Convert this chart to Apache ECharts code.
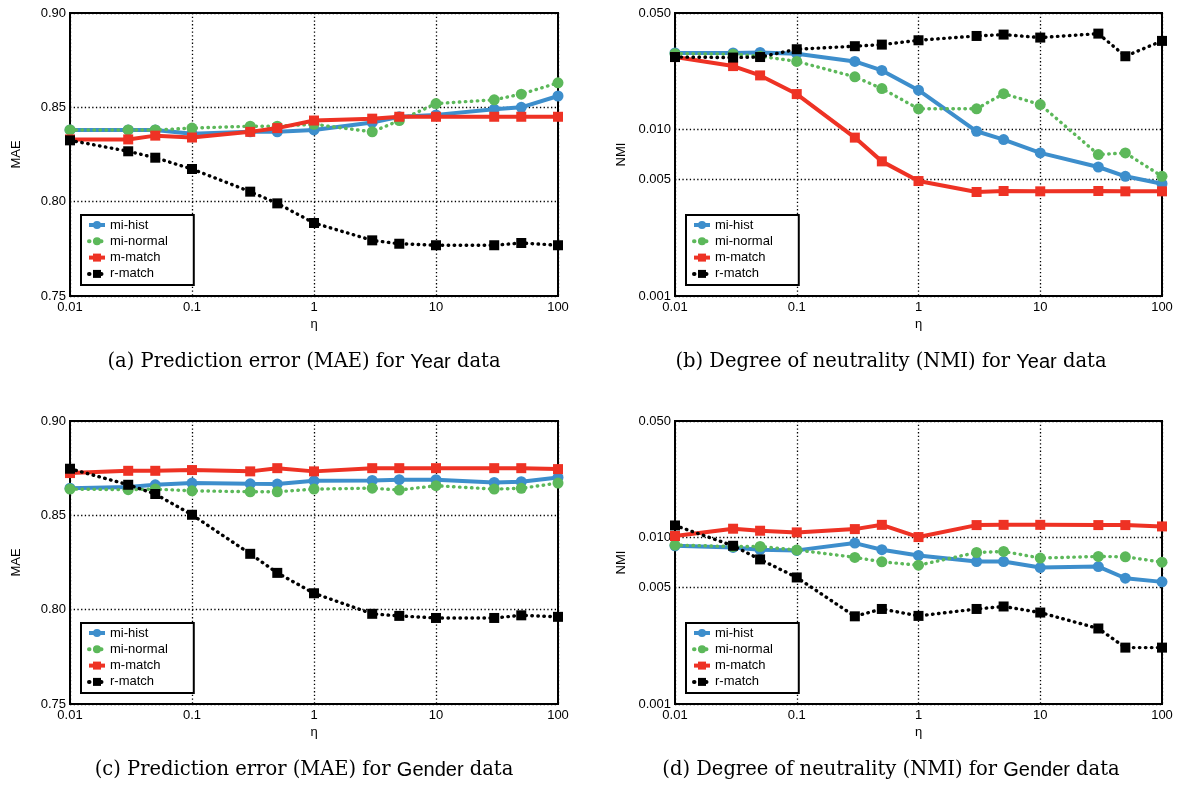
<!DOCTYPE html>
<html>
<head>
<meta charset="utf-8">
<script src="https://cdn.jsdelivr.net/npm/echarts@6/dist/echarts.min.js"></script>
<style>
  html, body { margin: 0; padding: 0; background: #fff; }
  #main { width: 1178px; height: 788px; }
</style>
</head>
<body>
<div id="main"></div>
<script>
// eta values on the x axis
var eta = [0.01, 0.03, 0.05, 0.1, 0.3, 0.5, 1, 3, 5, 10, 30, 50, 100];
var xTicks = [0.01, 0.1, 1, 10, 100];
var maeTicks = [0.75, 0.80, 0.85, 0.90];
var nmiTicks = [0.001, 0.005, 0.010, 0.050];
var names = ['mi-hist', 'mi-normal', 'm-match', 'r-match'];

// (a) MAE, Year
var yearMaeHist   = [0.838, 0.838, 0.838, 0.836, 0.837, 0.837, 0.838, 0.842, 0.845, 0.846, 0.849, 0.850, 0.856];
var yearMaeNormal = [0.838, 0.838, 0.838, 0.839, 0.840, 0.840, 0.841, 0.837, 0.843, 0.852, 0.854, 0.857, 0.863];
var yearMaeM      = [0.833, 0.833, 0.835, 0.834, 0.837, 0.839, 0.843, 0.844, 0.845, 0.845, 0.845, 0.845, 0.845];
var yearMaeR      = [0.8325, 0.8267, 0.8233, 0.8173, 0.8053, 0.7991, 0.7887, 0.7795, 0.7777, 0.7769, 0.7769, 0.7781, 0.7769];

// (b) NMI, Year
var yearNmiHist   = [0.0288, 0.0288, 0.0290, 0.0285, 0.0256, 0.0226, 0.0172, 0.00975, 0.00869, 0.00723, 0.00595, 0.00523, 0.00472];
var yearNmiNormal = [0.0285, 0.0283, 0.0275, 0.0256, 0.0207, 0.0176, 0.0133, 0.0133, 0.0164, 0.0141, 0.00706, 0.00723, 0.00523];
var yearNmiM      = [0.0272, 0.0240, 0.0211, 0.0163, 0.00893, 0.00643, 0.00490, 0.00421, 0.00427, 0.00425, 0.00427, 0.00425, 0.00425];
var yearNmiR      = [0.0272, 0.0270, 0.0272, 0.0303, 0.0316, 0.0323, 0.0343, 0.0364, 0.0371, 0.0356, 0.0376, 0.0275, 0.0340];

// (c) MAE, Gender
var genMaeHist   = [0.8644, 0.8650, 0.8662, 0.8671, 0.8667, 0.8666, 0.8683, 0.8685, 0.8689, 0.8689, 0.8674, 0.8678, 0.8701];
var genMaeNormal = [0.8639, 0.8636, 0.8639, 0.8630, 0.8625, 0.8625, 0.8639, 0.8644, 0.8634, 0.8657, 0.8639, 0.8643, 0.8671];
var genMaeM      = [0.8724, 0.8736, 0.8736, 0.8740, 0.8733, 0.8750, 0.8733, 0.8750, 0.8750, 0.8750, 0.8750, 0.8750, 0.8745];
var genMaeR      = [0.8747, 0.8662, 0.8613, 0.8503, 0.8296, 0.8195, 0.8087, 0.7978, 0.7967, 0.7956, 0.7956, 0.7970, 0.7962];

// (d) NMI, Gender
var genNmiHist   = [0.00891, 0.00871, 0.00844, 0.00836, 0.00925, 0.00844, 0.00780, 0.00717, 0.00717, 0.00659, 0.00668, 0.00569, 0.00541];
var genNmiNormal = [0.00900, 0.00882, 0.00882, 0.00840, 0.00759, 0.00714, 0.00681, 0.00812, 0.00824, 0.00752, 0.00769, 0.00765, 0.00710];
var genNmiM      = [0.0102, 0.01128, 0.01097, 0.01072, 0.01122, 0.0119, 0.01005, 0.01186, 0.0119, 0.0119, 0.01186, 0.01186, 0.01164];
var genNmiR      = [0.0118, 0.00891, 0.00738, 0.00575, 0.00336, 0.00372, 0.00338, 0.00372, 0.00385, 0.00354, 0.00284, 0.00218, 0.00218];

var captions = [
  '(a) Prediction error (MAE) for {s|Year} data',
  '(b) Degree of neutrality (NMI) for {s|Year} data',
  '(c) Prediction error (MAE) for {s|Gender} data',
  '(d) Degree of neutrality (NMI) for {s|Gender} data'
];

var colors = ['#3d8ecc', '#5cb85a', '#ee3224', '#000000'];
var symbols = ['circle', 'circle', 'rect', 'rect'];
var dotted = [false, true, false, true];

var panels = [
  { left: 70,  top: 13,  width: 488, height: 283, log: false, name: 'MAE', data: [yearMaeHist, yearMaeNormal, yearMaeM, yearMaeR] },
  { left: 675, top: 13,  width: 487, height: 283, log: true,  name: 'NMI', data: [yearNmiHist, yearNmiNormal, yearNmiM, yearNmiR] },
  { left: 70,  top: 421, width: 488, height: 283, log: false, name: 'MAE', data: [genMaeHist, genMaeNormal, genMaeM, genMaeR] },
  { left: 675, top: 421, width: 487, height: 283, log: true,  name: 'NMI', data: [genNmiHist, genNmiNormal, genNmiM, genNmiR] }
];

var font = 'Liberation Sans';
var gridLine = { show: true, lineStyle: { color: '#000', width: 1.3, type: [1.3, 2.4] } };

var grid = [], xAxis = [], yAxis = [], series = [], legend = [], graphic = [];

panels.forEach(function (p, i) {
  grid.push({ left: p.left, top: p.top, width: p.width, height: p.height,
    show: true, borderColor: '#000', borderWidth: 2, backgroundColor: 'transparent' });

  xAxis.push({
    gridIndex: i, type: 'log', logBase: 10, min: 0.01, max: 100,
    name: 'η', nameLocation: 'middle', nameGap: 22,
    nameTextStyle: { fontFamily: font, fontSize: 13, color: '#000' },
    axisLine: { show: false }, axisTick: { show: false, customValues: xTicks },
    axisLabel: { customValues: xTicks, fontFamily: font, fontSize: 13, color: '#000', margin: 5,
      formatter: function (v) { return String(+(+v).toPrecision(3)); } },
    splitLine: gridLine
  });

  var y = {
    gridIndex: i, name: p.name, nameLocation: 'middle', nameGap: 47,
    nameTextStyle: { fontFamily: font, fontSize: 13, color: '#000' },
    axisLine: { show: false },
    splitLine: gridLine
  };
  if (p.log) {
    y.type = 'log'; y.logBase = 10; y.min = 0.001; y.max = 0.05;
    y.axisTick = { show: false, customValues: nmiTicks };
    y.axisLabel = { customValues: nmiTicks, fontFamily: font, fontSize: 13, color: '#000', margin: 4,
      formatter: function (v) { return (+v).toFixed(3); } };
  } else {
    y.type = 'value'; y.min = 0.75; y.max = 0.90; y.interval = 0.05;
    y.axisTick = { show: false };
    y.axisLabel = { fontFamily: font, fontSize: 13, color: '#000', margin: 4,
      formatter: function (v) { return (+v).toFixed(2); } };
  }
  yAxis.push(y);

  names.forEach(function (n, k) {
    series.push({
      name: n, type: 'line', xAxisIndex: i, yAxisIndex: i,
      data: eta.map(function (e, j) { return [e, p.data[k][j]]; }),
      symbol: symbols[k], symbolSize: symbols[k] === 'rect' ? 10 : 11,
      showSymbol: true,
      itemStyle: { color: colors[k] },
      lineStyle: dotted[k]
        ? { color: colors[k], width: 3.4, type: [0.5, 5.5], cap: 'round' }
        : { color: colors[k], width: 4 },
      z: 2 + k, animation: false
    });
  });

  legend.push({
    orient: 'vertical', left: p.left + 11, top: p.top + 202,
    data: names, selectedMode: false,
    borderColor: '#000', borderWidth: 2, backgroundColor: '#fff',
    padding: [3, 26, 4, 6], itemGap: 2.3, itemWidth: 16, itemHeight: 10,
    lineStyle: { width: 4 },
    textStyle: { fontFamily: font, fontSize: 13, color: '#000', lineHeight: 14 }
  });

  graphic.push({
    type: 'text', x: (i % 2 === 0) ? 304 : 891, y: (i < 2) ? 362 : 770,
    style: {
      text: captions[i], align: 'center', verticalAlign: 'middle',
      fontFamily: 'DejaVu Serif', fontSize: 19.5, fill: '#000',
      rich: { s: { fontFamily: font, fontSize: 20, fill: '#000' } }
    }
  });
});

var chart = echarts.init(document.getElementById('main'));
chart.setOption({
  animation: false,
  backgroundColor: '#fff',
  grid: grid, xAxis: xAxis, yAxis: yAxis,
  legend: legend, series: series, graphic: graphic
});
</script>
</body>
</html>
